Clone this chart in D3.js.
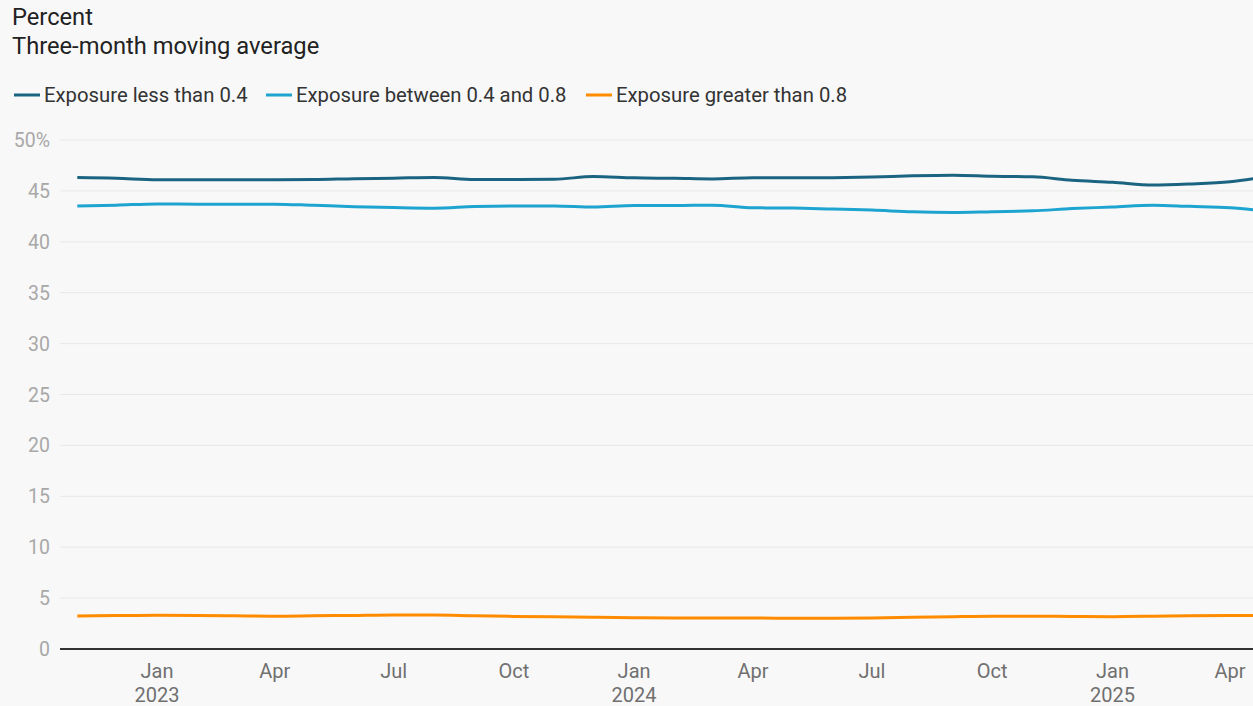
<!DOCTYPE html>
<html>
<head>
<meta charset="utf-8">
<script src="https://cdn.jsdelivr.net/npm/d3@7"></script>
<style>
  html, body { margin: 0; padding: 0; background: #f8f8f8; overflow: hidden; }
  svg { display: block; font-family: Roboto, "Noto Sans", sans-serif; }
</style>
</head>
<body>
<svg id="chart" width="1253" height="706"></svg>
<script>
const months = ["2022-11","2022-12","2023-01","2023-02","2023-03","2023-04","2023-05","2023-06","2023-07","2023-08","2023-09","2023-10","2023-11","2023-12","2024-01","2024-02","2024-03","2024-04","2024-05","2024-06","2024-07","2024-08","2024-09","2024-10","2024-11","2024-12","2025-01","2025-02","2025-03","2025-04","2025-05"];
const lowExposure = [46.32,46.25,46.1,46.1,46.1,46.1,46.12,46.2,46.25,46.32,46.12,46.12,46.14,46.42,46.28,46.24,46.18,46.3,46.28,46.3,46.36,46.48,46.54,46.44,46.38,46.05,45.85,45.58,45.68,45.9,46.45];
const midExposure = [43.52,43.6,43.72,43.7,43.7,43.7,43.58,43.45,43.36,43.3,43.46,43.52,43.52,43.42,43.56,43.56,43.6,43.34,43.32,43.22,43.12,42.94,42.88,42.96,43.04,43.26,43.42,43.6,43.48,43.34,43.0];
const highExposure = [3.24,3.28,3.32,3.3,3.26,3.22,3.26,3.3,3.34,3.34,3.26,3.2,3.16,3.12,3.08,3.05,3.04,3.05,3.02,3.02,3.05,3.12,3.18,3.22,3.22,3.2,3.18,3.22,3.27,3.3,3.3];
const seriesNames = ["Exposure less than 0.4","Exposure between 0.4 and 0.8","Exposure greater than 0.8"];
const seriesColors = ["#1b6481","#1ea4d0","#ff8c00"];
const yTicks = [0,5,10,15,20,25,30,35,40,45,50];
const xTickLabels = [["2023-01","Jan","2023"],["2023-04","Apr",""],["2023-07","Jul",""],["2023-10","Oct",""],["2024-01","Jan","2024"],["2024-04","Apr",""],["2024-07","Jul",""],["2024-10","Oct",""],["2025-01","Jan","2025"],["2025-04","Apr",""]];

const parse = d3.timeParse("%Y-%m");
const dates = months.map(parse);
const seriesValues = [lowExposure, midExposure, highExposure];

const svg = d3.select("#chart");
const W = 1253;

const x = d3.scaleTime()
  .domain([parse("2022-11"), parse("2025-05")])
  .range([77.3, 1269.3]);
const y = d3.scaleLinear().domain([0, 50]).range([649, 140]);

// title
svg.append("text").attr("x", 12).attr("y", 25).attr("font-size", 23.7).attr("fill", "#222").text("Percent");
svg.append("text").attr("x", 12).attr("y", 54).attr("font-size", 23.7).attr("fill", "#222").text("Three-month moving average");

// legend
const legendX = [14, 266, 586];
seriesNames.forEach((n, i) => {
  const g = svg.append("g").attr("transform", `translate(${legendX[i]},95)`);
  g.append("line").attr("x1", 0).attr("x2", 26).attr("y1", 0).attr("y2", 0)
    .attr("stroke", seriesColors[i]).attr("stroke-width", 3);
  g.append("text").attr("x", 30).attr("y", 7).attr("font-size", 20.3).attr("fill", "#333").text(n);
});

// grid + y labels
const grid = svg.append("g");
yTicks.forEach(t => {
  if (t !== 0) {
    grid.append("line").attr("x1", 60).attr("x2", W).attr("y1", y(t)).attr("y2", y(t))
      .attr("stroke", "#e8e8e8").attr("stroke-width", 1);
  }
  grid.append("text").attr("x", 50).attr("y", y(t) + 7).attr("text-anchor", "end")
    .attr("font-size", 19.5).attr("fill", "#a8a8a8").text(t === 50 ? "50%" : t);
});

// x labels
const xg = svg.append("g");
xTickLabels.forEach(([d, m, yr]) => {
  const px = x(parse(d));
  xg.append("text").attr("x", px).attr("y", 678).attr("text-anchor", "middle")
    .attr("font-size", 20).attr("fill", "#707070").text(m);
  if (yr) xg.append("text").attr("x", px).attr("y", 702).attr("text-anchor", "middle")
    .attr("font-size", 20).attr("fill", "#707070").text(yr);
});

// lines
const line = d3.line().x((d, i) => x(dates[i])).y(d => y(d)).curve(d3.curveMonotoneX);
seriesValues.forEach((vals, i) => {
  svg.append("path").datum(vals).attr("d", line).attr("fill", "none")
    .attr("stroke", seriesColors[i]).attr("stroke-width", 3).attr("stroke-linejoin", "round");
});

// zero axis
svg.append("line").attr("x1", 60).attr("x2", W).attr("y1", y(0)).attr("y2", y(0))
  .attr("stroke", "#333").attr("stroke-width", 2);
</script>
</body>
</html>
